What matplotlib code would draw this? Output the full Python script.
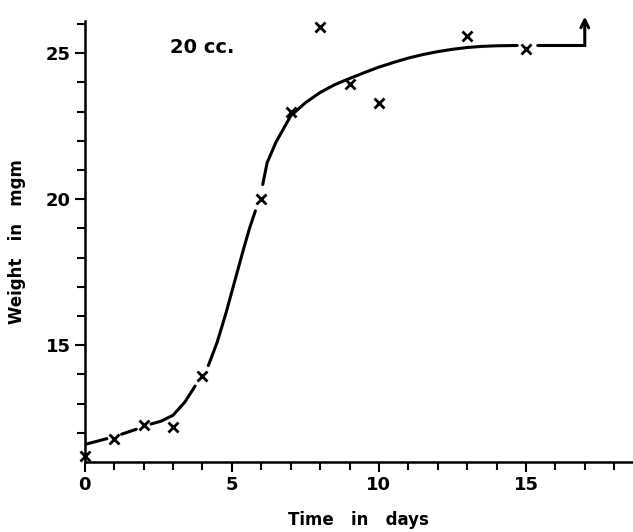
import matplotlib.pyplot as plt
import numpy as np

# observed weights (crosses)
days = [0, 1, 2, 3, 4, 6, 7, 8, 9, 10, 13, 15]
weight = [11.2, 11.8, 12.25, 12.2, 13.95, 20.0, 23.0, 25.9, 23.95, 23.3, 25.6, 25.15]

# hand drawn growth curve; NaN = break in the pen line
curve_x = [0, 0.75, np.nan, 1.25, 1.75, np.nan,
           2.25, 2.6, 3.0, 3.4, 3.75, np.nan,
           4.2, 4.5, 4.8, 5.1, 5.4, 5.6, 5.8, np.nan,
           6.05, 6.2, 6.5, 7.0, 7.5, 8.0, 8.5, 9.0, 9.5, 10.0, 10.5, 11.0, 11.5,
           12.0, 12.5, 13.0, 13.5, 14.0, 14.7, np.nan,
           15.4, 17.0]
curve_y = [11.6, 11.8, np.nan, 11.95, 12.12, np.nan,
           12.3, 12.4, 12.6, 13.05, 13.6, np.nan,
           14.3, 15.1, 16.1, 17.2, 18.3, 19.0, 19.6, np.nan,
           20.5, 21.25, 21.95, 22.85, 23.3, 23.65, 23.92, 24.13, 24.33, 24.52, 24.68, 24.83, 24.95,
           25.05, 25.13, 25.19, 25.23, 25.25, 25.26, np.nan,
           25.26, 25.26]
arrow_x = 17.0
arrow_y = [25.26, 26.25]

plt.rcParams['font.family'] = ['DejaVu Sans']
plt.rcParams['font.weight'] = 'bold'

fig = plt.figure(figsize=(6.33, 5.32), dpi=100)
ax = fig.add_axes([0.134, 0.1316, 0.866, 0.829])

ax.plot(curve_x, curve_y, color='black', lw=2.2, solid_capstyle='round')
ax.plot(days, weight, 'x', color='black', ms=7, mew=2, clip_on=False)
ax.annotate('', xy=(arrow_x, arrow_y[1]), xytext=(arrow_x, arrow_y[0]),
            annotation_clip=False,
            arrowprops=dict(arrowstyle='->', color='black', lw=2.2,
                            mutation_scale=14, shrinkA=0, shrinkB=0))

ax.text(4.0, 25.2, '20 cc.', fontsize=14, fontweight='bold', ha='center', va='center')

ax.set_xlim(0, 18.64)
ax.set_ylim(11, 26.1)
ax.set_xticks([0, 5, 10, 15])
ax.set_xticks(np.arange(0, 19), minor=True)
ax.set_yticks([15, 20, 25])
ax.set_yticks(np.arange(12, 27), minor=True)
ax.tick_params(which='both', direction='out', width=1.5, labelsize=13, pad=3)
ax.tick_params(which='major', length=7)
ax.tick_params(which='minor', length=6)

for s in ['top', 'right']:
    ax.spines[s].set_visible(False)
for s in ['left', 'bottom']:
    ax.spines[s].set_linewidth(1.8)

ax.set_xlabel('Time   in   days', fontsize=12, fontweight='bold', labelpad=12)
ax.set_ylabel('Weight   in   mgm', fontsize=12, fontweight='bold', labelpad=14)

fig.savefig('out.png', dpi=100)
